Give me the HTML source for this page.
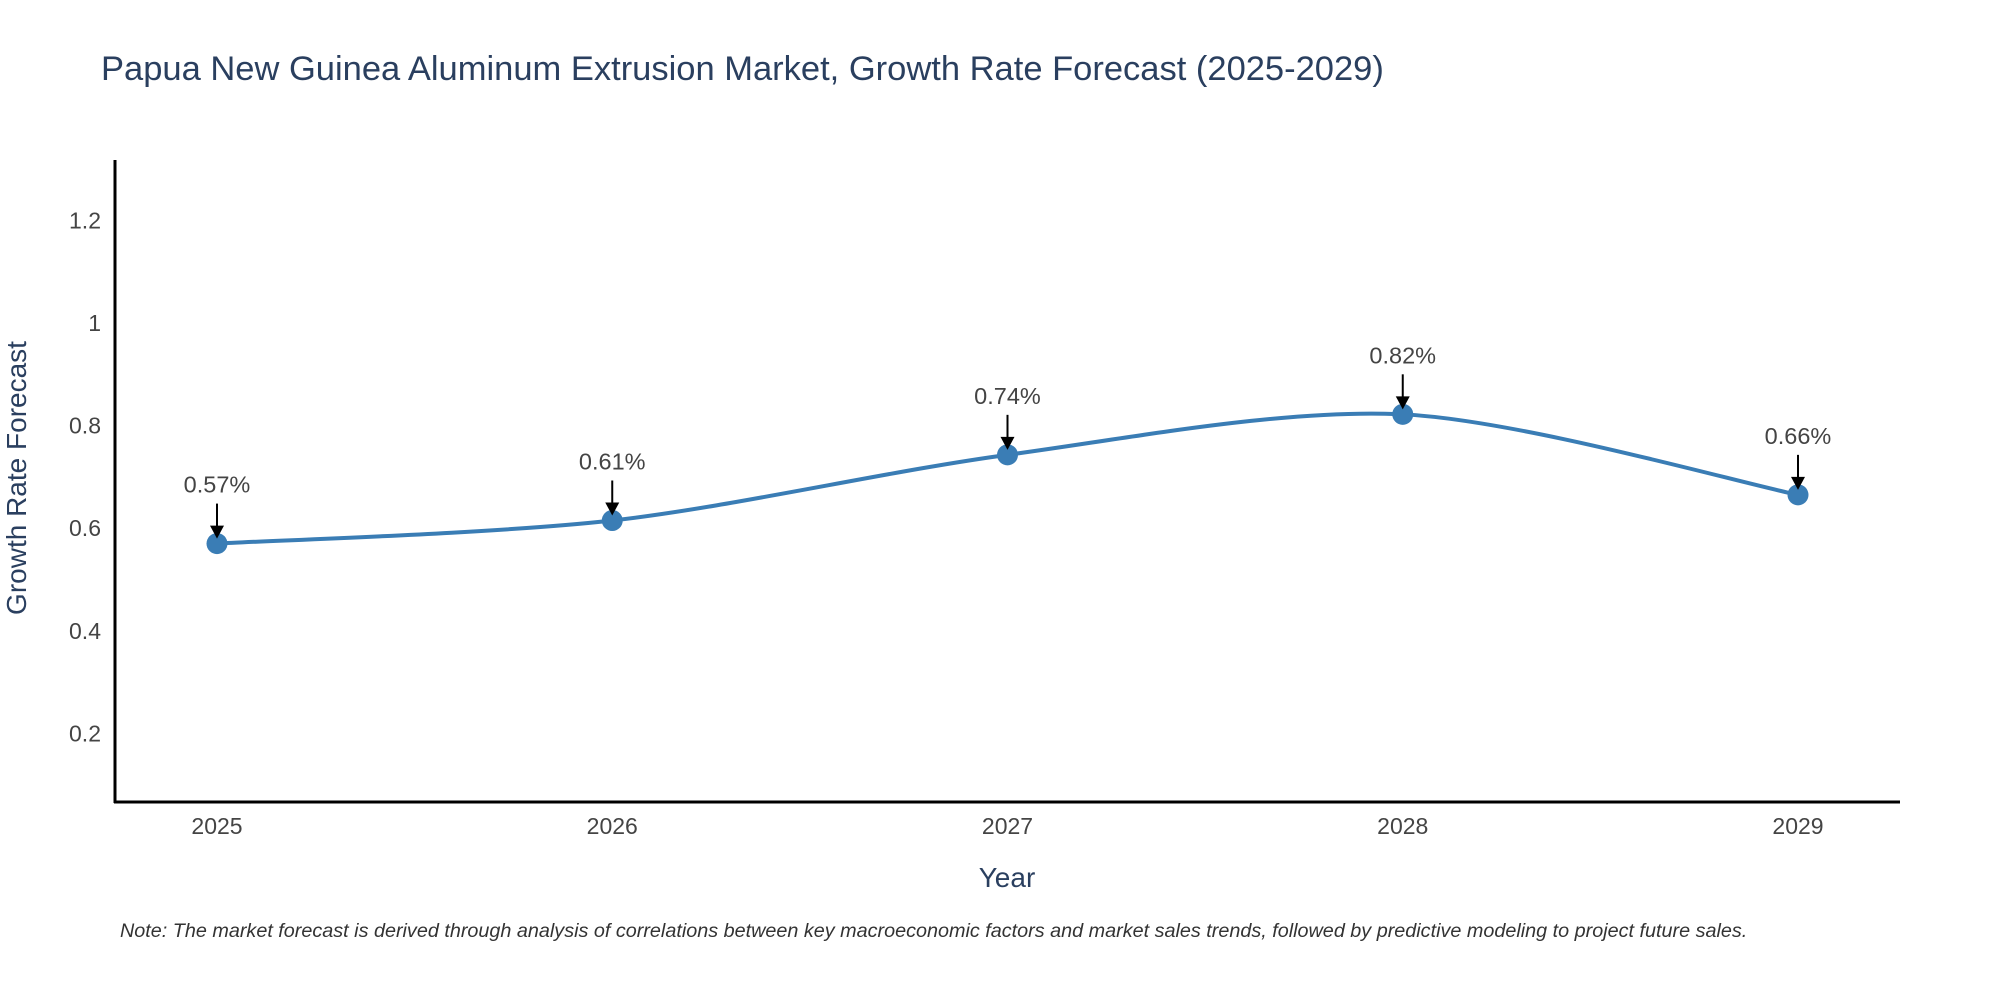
<!DOCTYPE html>
<html><head><meta charset="utf-8"><style>
body{margin:0;background:#fff;}
svg{display:block;font-family:"Liberation Sans","DejaVu Sans",sans-serif;}
</style></head><body>
<svg id="chart" width="2000" height="1000">
<text x="101" y="80" font-size="34.5" fill="#2a3f5f">Papua New Guinea Aluminum Extrusion Market, Growth Rate Forecast (2025-2029)</text>
<g id="yticks"></g>
<g id="xticks"></g>
<line x1="115" y1="160" x2="115" y2="803" stroke="#000" stroke-width="3"/>
<line x1="114" y1="802" x2="1900" y2="802" stroke="#000" stroke-width="3"/>
<path id="series" fill="none" stroke="#3a7db5" stroke-width="4"/>
<g id="marks"></g>
<text x="26" y="478" font-size="28" fill="#2a3f5f" text-anchor="middle" transform="rotate(-90 26 478)">Growth Rate Forecast</text>
<text x="1007" y="887" font-size="28" fill="#2a3f5f" text-anchor="middle">Year</text>
<text x="120" y="937" font-size="19.8" font-style="italic" fill="#333">Note: The market forecast is derived through analysis of correlations between key macroeconomic factors and market sales trends, followed by predictive modeling to project future sales.</text>
</svg>
<script>
const years=[2025,2026,2027,2028,2029];
const values=[0.57,0.615,0.743,0.822,0.665];
const labels=["0.57%","0.61%","0.74%","0.82%","0.66%"];
const yTicks=[0.2,0.4,0.6,0.8,1,1.2];
const yTickLabels=["0.2","0.4","0.6","0.8","1","1.2"];
const NS="http://www.w3.org/2000/svg";
function xs(v){return 217+(v-2025)*395.25;}
function ys(v){return 836-v*513;}
function mk(t,a,p){const e=document.createElementNS(NS,t);for(const k in a)e.setAttribute(k,a[k]);p.appendChild(e);return e;}
const yt=document.getElementById('yticks');
yTicks.forEach((v,i)=>{const t=mk('text',{x:101,y:ys(v)+8,'font-size':23,fill:'#444','text-anchor':'end'},yt);


t.textContent=yTickLabels[i];});
const xt=document.getElementById('xticks');
years.forEach(y=>{const t=mk('text',{x:xs(y),y:834,'font-size':23,fill:'#444','text-anchor':'middle'},xt);


t.textContent=y;});
const P=years.map((y,i)=>[xs(y),ys(values[i])]);
let d='M'+P[0][0]+','+P[0][1];const s=0.15;
for(let i=0;i<P.length-1;i++){const p0=P[Math.max(0,i-1)],p1=P[i],p2=P[i+1],p3=P[Math.min(P.length-1,i+2)];
const c1=[p1[0]+(p2[0]-p0[0])*s,p1[1]+(p2[1]-p0[1])*s],c2=[p2[0]-(p3[0]-p1[0])*s,p2[1]-(p3[1]-p1[1])*s];
d+=' C'+c1+' '+c2+' '+p2;}
document.getElementById('series').setAttribute('d',d);
const g=document.getElementById('marks');
P.forEach((p,i)=>{
const c=mk('circle',{cx:p[0],cy:p[1],r:10.5,fill:'#3a7db5'},g);


const l=mk('line',{x1:p[0],y1:p[1]-40,x2:p[0],y2:p[1]-14,stroke:'#000','stroke-width':2},g);


const a=mk('polygon',{points:(p[0]-7)+','+(p[1]-18)+' '+(p[0]+7)+','+(p[1]-18)+' '+p[0]+','+(p[1]-5)},g);


const t=mk('text',{x:p[0],y:p[1]-51,'font-size':23.5,fill:'#444','text-anchor':'middle'},g);


t.textContent=labels[i];});
</script>
</body></html>
